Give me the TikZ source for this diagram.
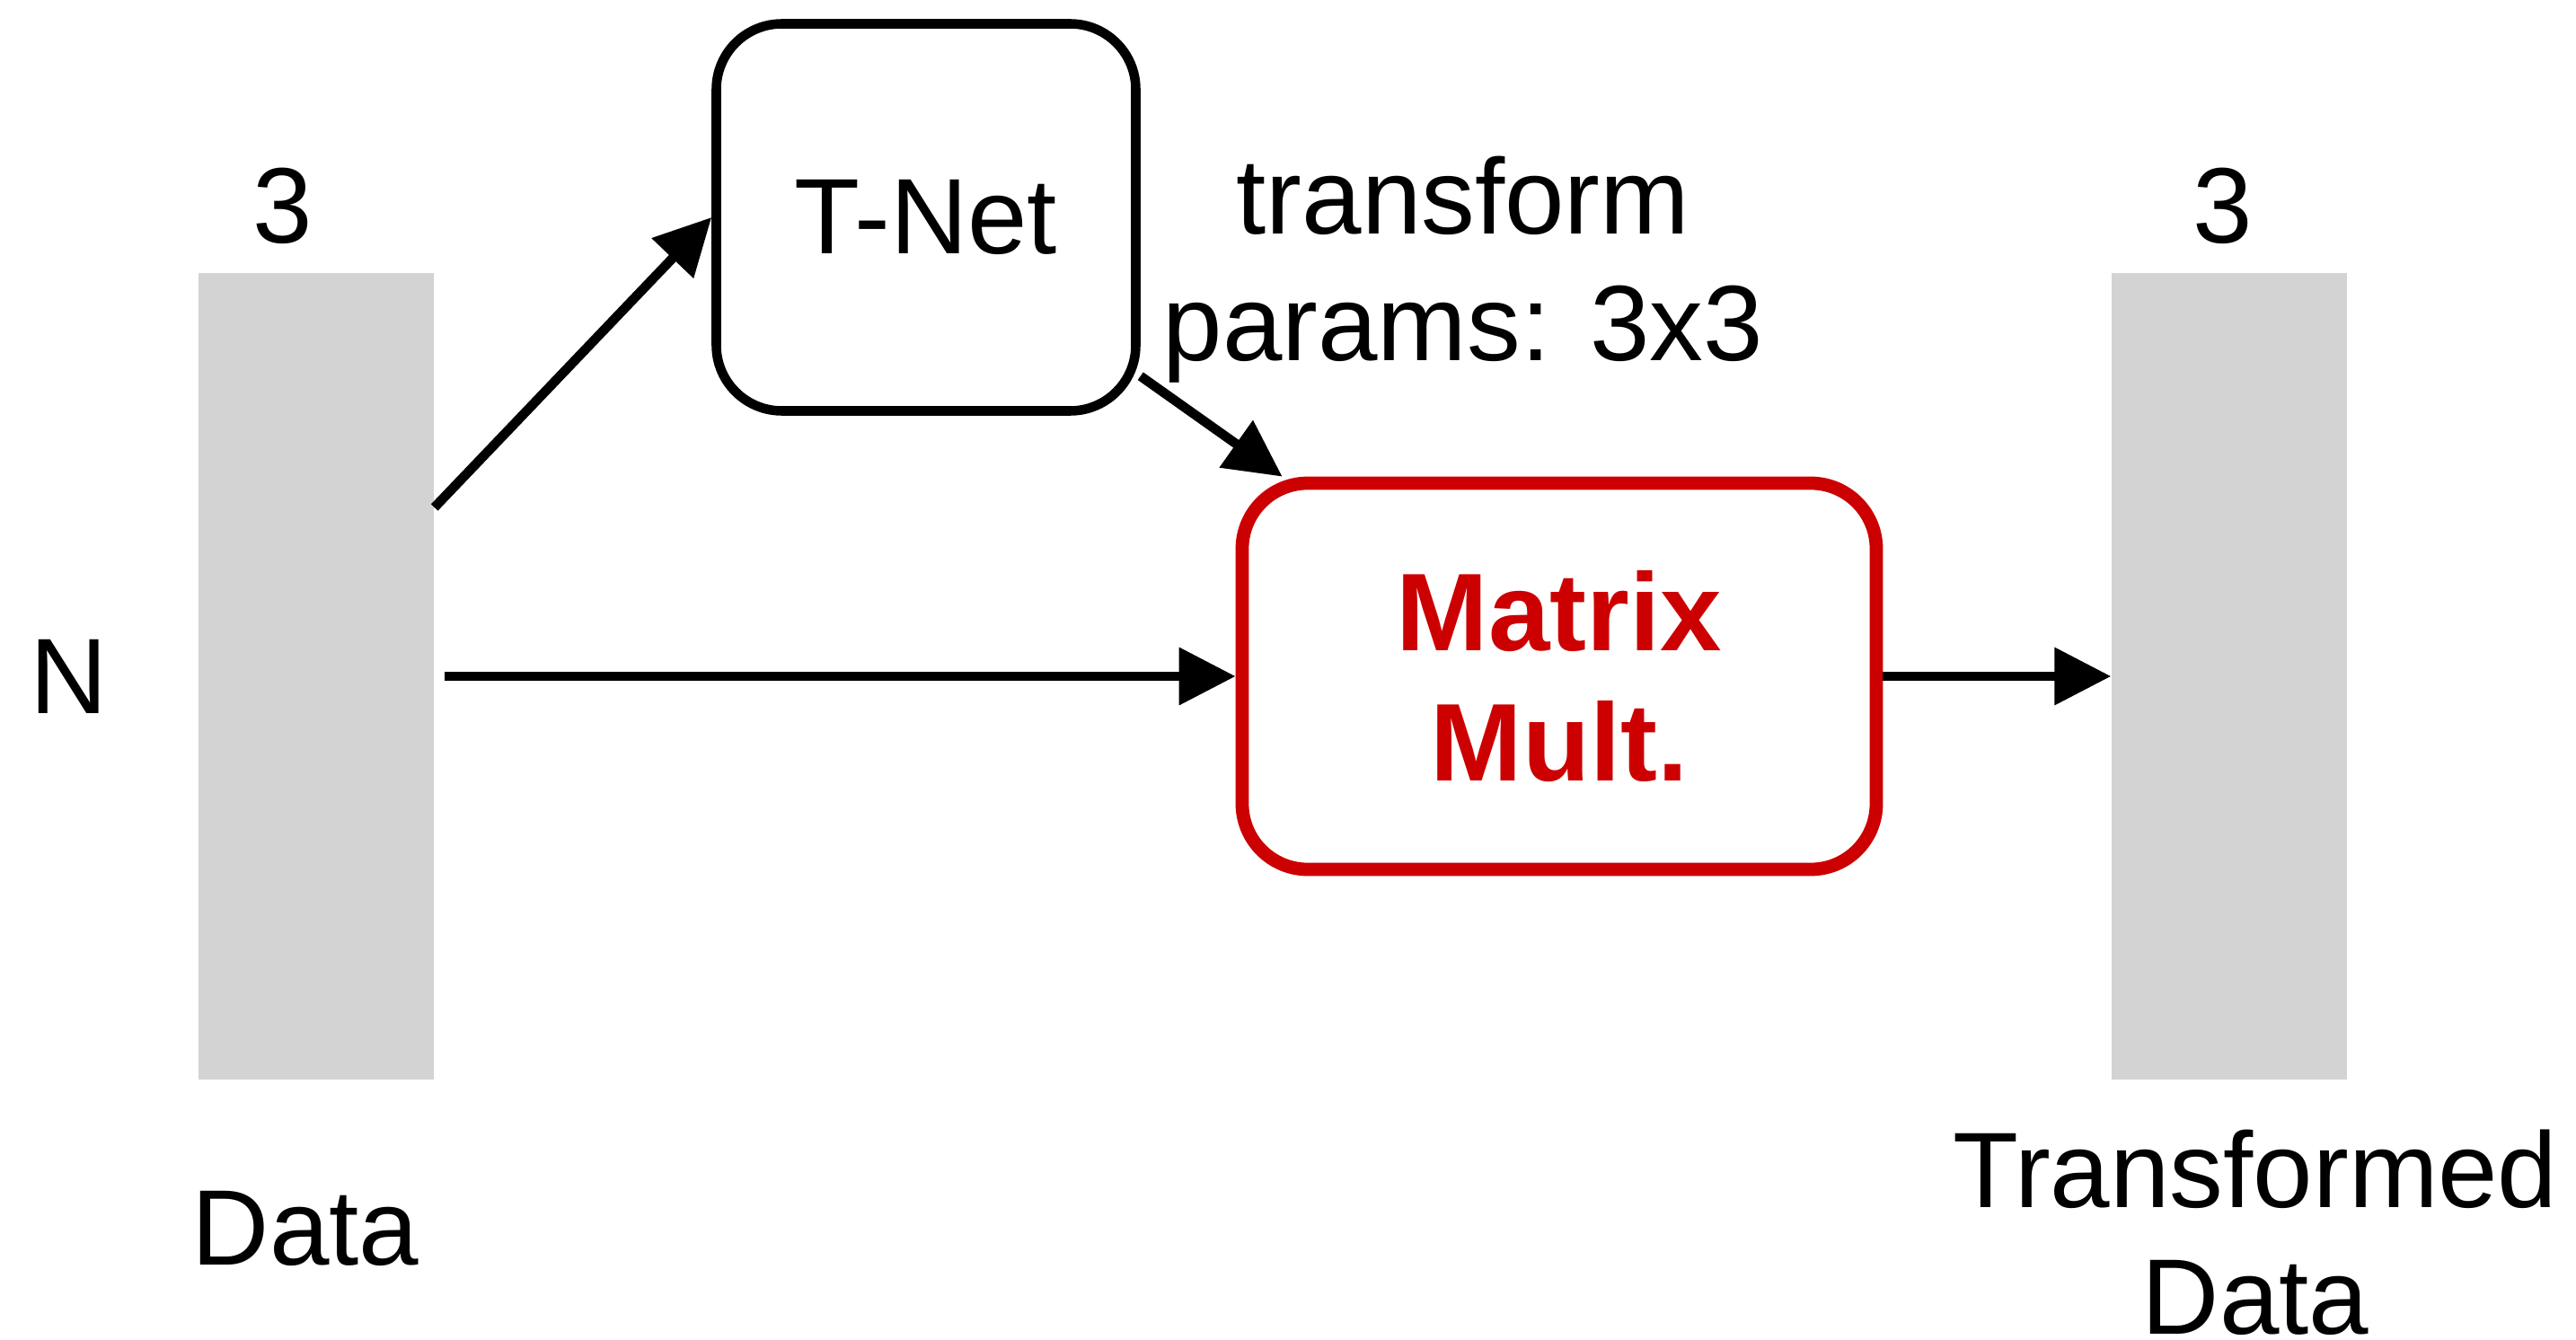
\documentclass[tikz,border=0pt]{standalone}
\usepackage{fontspec}
\setmainfont{Liberation Sans}
\usepackage{tikz}
\usetikzlibrary{calc}
\usetikzlibrary{shapes,arrows.meta,positioning}
\definecolor{mmred}{HTML}{CC0000}
\definecolor{colgray}{HTML}{D3D3D3}
\tikzstyle{txt} = [font=\fontsize{34}{40}\selectfont, inner sep=0pt, align=center]
\tikzstyle{column} = [rectangle, fill=colgray, minimum width=2.62cm, minimum height=8.98cm, inner sep=0pt]
\tikzstyle{block} = [rectangle, draw, line width=3pt, rounded corners=0.73cm,
    minimum width=4.67cm, minimum height=4.31cm, txt]
\tikzstyle{mblock} = [rectangle, draw=mmred, text=mmred, line width=4.2pt, rounded corners=0.73cm,
    minimum width=7.06cm, minimum height=4.30cm, txt, font=\fontsize{35}{41}\selectfont\bfseries]
\tikzstyle{line} = [draw, line width=3pt, -{Triangle[length=0.63cm,width=0.62cm]}]

\begin{document}
\begin{tikzpicture}[node distance = 5cm, auto]
\useasboundingbox (0,0) rectangle (28.68,14.91);
\node[column] (data) at (3.52,7.38) {};
\node[mblock, right of = data, node distance = 13.84cm] (mult) {Matrix\\Mult.};
\node[column, right of = mult, node distance = 7.46cm] (tdata) {};
\node[block, right of = data, node distance = 6.79cm, yshift=5.11cm] (tnet) {T-Net};
\path ([yshift=1.88cm]data.east) edge[line] (tnet.west);
\path ([xshift=0.11cm]data.east) edge[line] (mult.west);
\path ([yshift=0.44cm]tnet.south east) edge[line] ([xshift=0.52cm]mult.north west);
\path (mult.east) edge[line] (tdata.west);
%Labels:
\node[txt, right of = tnet, node distance = 5.98cm, yshift=-0.58cm] (tparams) {transform\\params: 3x3};
\node[txt, above of = data, node distance = 5.24cm, xshift=-0.37cm] (data_dim) {3};
\node[txt, above of = tdata, node distance = 5.24cm, xshift=-0.07cm] (tdata_dim) {3};
\node[txt, left of = data, node distance = 2.75cm] (data_n) {N};
\node[txt, below of = data, node distance = 6.15cm, xshift=-0.12cm] (data_t) {Data};
\node[txt, below of = tdata, node distance = 6.19cm, xshift=0.29cm] (tdata_t) {Transformed\\Data};
\end{tikzpicture}
\end{document}
